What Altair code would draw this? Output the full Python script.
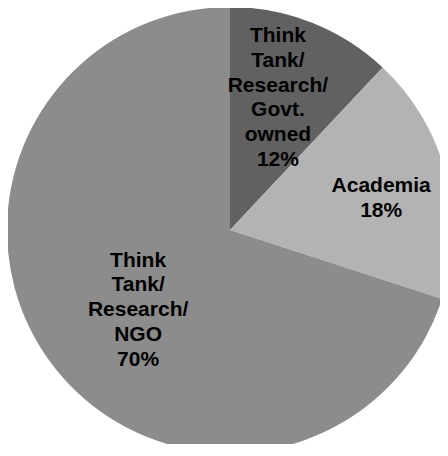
import altair as alt
import pandas as pd

categories = ["Think Tank/Research/Govt. owned", "Academia", "Think Tank/Research/NGO"]
labels = ["Think\nTank/\nResearch/\nGovt.\nowned\n12%", "Academia\n18%", "Think\nTank/\nResearch/\nNGO\n70%"]
values = [12, 18, 70]
order = [1, 2, 3]
colors = ["#616161", "#b3b3b3", "#8c8c8c"]

df = pd.DataFrame({"category": categories, "label": labels, "value": values, "order": order})

base = alt.Chart(df).encode(
    theta=alt.Theta("value:Q", stack=True),
    order=alt.Order("order:Q"),
)

CX, CY = 222, 222

pie = base.mark_arc(radius=223).encode(
    color=alt.Color("category:N", scale=alt.Scale(domain=categories, range=colors), legend=None),
    x=alt.value(CX),
    y=alt.value(CY),
)

LH = 24.7
label_layers = []
label_style = [(141, -4, -1), (154, 2, 7), (121, 6, 9)]
for cat, lab, (r, ddx, ddy) in zip(categories, labels, label_style):
    n = lab.count("\n") + 1
    label_layers.append(
        base.mark_text(
            radius=r, font="Liberation Sans", fontWeight="bold", fontSize=21,
            lineBreak="\n", lineHeight=LH, color="#000000", align="center",
            baseline="middle", dx=ddx, dy=ddy - (n - 1) * LH / 2,
        ).encode(text="label:N", x=alt.value(CX), y=alt.value(CY),
                 opacity=alt.condition(alt.datum.category == cat, alt.value(1), alt.value(0)))
    )

chart = alt.layer(pie, *label_layers).properties(
    width=432, height=436, padding=0, autosize=alt.AutoSizeParams(type="none")
).configure_view(strokeOpacity=0, strokeWidth=0, fill="#ffffff")

chart.save("out.html", embed_options={"renderer": "svg", "actions": False})
